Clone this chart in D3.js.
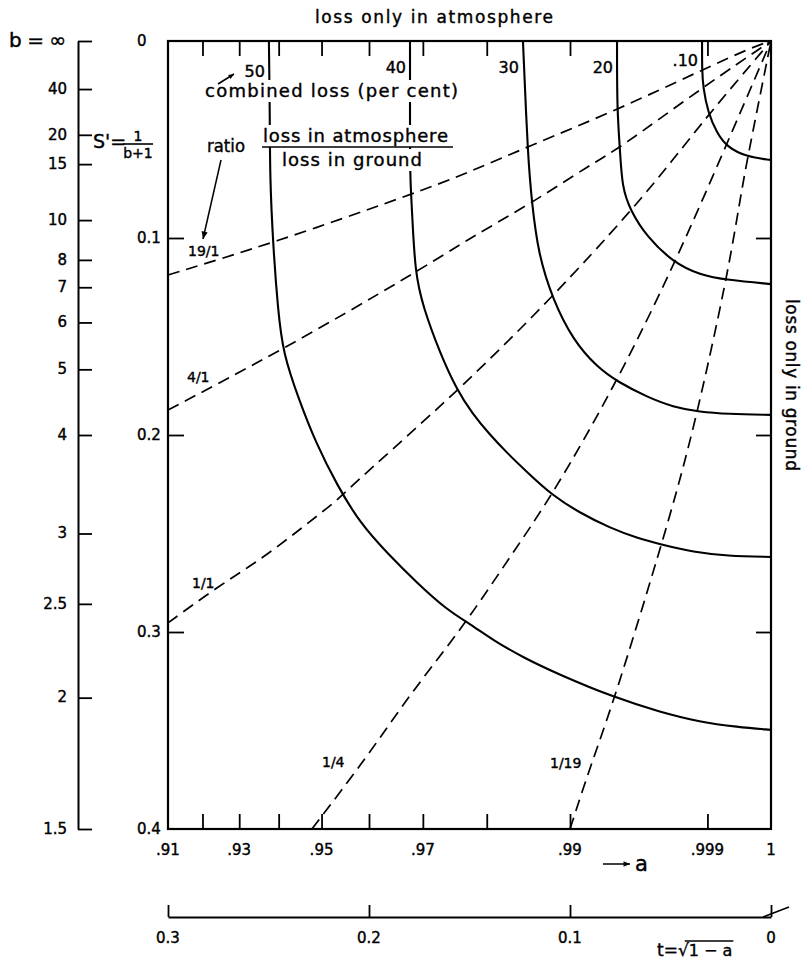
<!DOCTYPE html>
<html><head><meta charset="utf-8">
<script src="https://cdn.jsdelivr.net/npm/d3@7"></script>
<style>body{margin:0;background:#fff}svg{display:block}</style>
</head><body><svg id="c" width="804" height="966"></svg>
<script>
// ---------- data (t = sqrt(1-a), S' = 1/(b+1)) ----------
const lossLabels = ["50","40","30","20",".10"];
const loss50 = [[0.2498,0],[0.2493,0.0401],[0.2493,0.0680],[0.2478,0.1025],[0.2453,0.1365],[0.2428,0.1584],[0.2348,0.1822],[0.2264,0.2041],[0.2159,0.2254],[0.2045,0.2447],[0.1910,0.2599],[0.1761,0.2751],[0.1612,0.2888],[0.1497,0.2959],[0.1383,0.3041],[0.1234,0.3129],[0.1050,0.3218],[0.0786,0.3330],[0.0552,0.3406],[0.0353,0.3457],[0.0169,0.3482],[0,0.3497]];
const loss40 = [[0.1796,0],[0.1796,0.0401],[0.1796,0.0690],[0.1786,0.0858],[0.1771,0.1178],[0.1731,0.1350],[0.1647,0.1584],[0.1562,0.1772],[0.1488,0.1888],[0.1398,0.2000],[0.1313,0.2091],[0.1214,0.2188],[0.1090,0.2305],[0.0950,0.2396],[0.0801,0.2472],[0.0667,0.2523],[0.0537,0.2558],[0.0388,0.2594],[0.0219,0.2614],[0,0.2619]];
const loss30 = [[0.1234,0],[0.1209,0.0604],[0.1189,0.0822],[0.1159,0.1076],[0.1085,0.1315],[0.0985,0.1518],[0.0866,0.1655],[0.0761,0.1731],[0.0617,0.1807],[0.0488,0.1858],[0.0353,0.1883],[0.0219,0.1893],[0,0.1898]];
const loss20 = [[0.0766,0],[0.0766,0.0350],[0.0751,0.0553],[0.0741,0.0741],[0.0701,0.0858],[0.0617,0.0995],[0.0488,0.1122],[0.0353,0.1188],[0.0219,0.1213],[0,0.1234]];
const loss10 = [[0.0343,0],[0.0343,0.0147],[0.0338,0.0234],[0.0313,0.0365],[0.0269,0.0467],[0.0219,0.0538],[0.0119,0.0589],[0,0.0604]];

const ratioLabels = ["19/1","4/1","1/1","1/4","1/19"];
const ratio19to1 = [[0.3,0.1188],[0.2478,0.1025],[0.1796,0.0782],[0.1498,0.0665],[0.1214,0.0538],[0.0766,0.0350],[0.0343,0.0147],[0.0090,0.0030],[0,0]];
const ratio4to1 = [[0.3,0.1873],[0.2433,0.1569],[0.1771,0.1178],[0.1498,0.1000],[0.1189,0.0822],[0.0886,0.0619],[0.0766,0.0553],[0.0338,0.0234],[0,0]];
const ratio1to1 = [[0.3,0.2954],[0.2756,0.2772],[0.2542,0.2635],[0.2328,0.2467],[0.2144,0.2320],[0.2095,0.2264],[0.1562,0.1782],[0.1085,0.1299],[0.0692,0.0858],[0.0488,0.0604],[0.0313,0.0376],[0,0]];
const ratio1to4 = [[0.2284,0.4],[0.2010,0.3635],[0.1781,0.3294],[0.1532,0.2975],[0.1299,0.2619],[0.1090,0.2310],[0.0761,0.1721],[0.0478,0.1127],[0.0254,0.0604],[0,0]];
const ratio1to19 = [[0.1,0.4],[0.0900,0.3685],[0.0776,0.3335],[0.0542,0.2548],[0.0453,0.2228],[0.0363,0.1873],[0.0219,0.1203],[0.0154,0.0807],[0.0119,0.0604],[0,0]];

const aTicks = [0.92,0.93,0.94,0.95,0.96,0.97,0.98,0.99,0.999];
const aLabelValues = [0.91,0.93,0.95,0.97,0.99,0.999,1];
const aLabelText = [".91",".93",".95",".97",".99",".999","1"];
const sTicks = [0.1,0.2,0.3];
const sLabelValues = [0,0.1,0.2,0.3,0.4];
const sLabelText = ["0","0.1","0.2","0.3","0.4"];
const bTicks = [Infinity,40,20,15,10,8,7,6,5,4,3,2.5,2,1.5];
const bLabelText = ["","40","20","15","10","8","7","6","5","4","3","2.5","2","1.5"];
const tTicks = [0.3,0.2,0.1,0];
const tLabelText = ["0.3","0.2","0.1","0"];

// ---------- drawing ----------
const FONT = "DejaVu Sans";
const svg = d3.select("#c");
svg.append("rect").attr("width",804).attr("height",966).attr("fill","#fff");

const xs = d3.scaleLinear().domain([0.3,0]).range([168,771]);
const ys = d3.scaleLinear().domain([0,0.4]).range([41,829]);
const aToT = a => Math.sqrt(Math.max(0,1-a));
const bToS = b => (b===Infinity ? 0 : 1/(b+1));

const g = svg.append("g");
const line = d3.line().x(d=>xs(d[0])).y(d=>ys(d[1])).curve(d3.curveBasis);

// dashed ratio curves
[ratio19to1,ratio4to1,ratio1to1,ratio1to4,ratio1to19].forEach(c=>{
  g.append("path").attr("d",line(c)).attr("fill","none").attr("stroke","#000")
   .attr("stroke-width",1.7).attr("stroke-dasharray","12,7");
});
// solid loss curves
const lossCurves = [loss50,loss40,loss30,loss20,loss10];
lossCurves.forEach(c=>{
  g.append("path").attr("d",line(c)).attr("fill","none").attr("stroke","#000").attr("stroke-width",2.1);
});

// frame
g.append("rect").attr("x",xs(0.3)).attr("y",ys(0)).attr("width",xs(0)-xs(0.3)).attr("height",ys(0.4)-ys(0))
  .attr("fill","none").attr("stroke","#000").attr("stroke-width",2.2);

function styleAxis(sel){
  sel.selectAll("path.domain").remove();
  sel.selectAll(".tick line").attr("stroke","#000").attr("stroke-width",1.8);
  sel.selectAll(".tick text").remove();
}
const aT = aTicks.map(aToT);
svg.append("g").attr("transform",`translate(0,${ys(0.4)})`).call(d3.axisTop(xs).tickValues(aT).tickSize(15)).call(styleAxis);
svg.append("g").attr("transform",`translate(0,${ys(0)})`).call(d3.axisBottom(xs).tickValues(aT).tickSize(15)).call(styleAxis);
svg.append("g").attr("transform",`translate(${xs(0.3)},0)`).call(d3.axisRight(ys).tickValues(sTicks).tickSize(16)).call(styleAxis);
svg.append("g").attr("transform",`translate(${xs(0)},0)`).call(d3.axisLeft(ys).tickValues(sTicks).tickSize(15)).call(styleAxis);

// b axis
const bAx = svg.append("g").attr("transform","translate(78,0)")
  .call(d3.axisRight(ys).tickValues(bTicks.map(bToS)).tickSize(14).tickSizeOuter(0));
bAx.select("path.domain").attr("stroke","#000").attr("stroke-width",2);
bAx.selectAll(".tick line").attr("stroke","#000").attr("stroke-width",1.8);
bAx.selectAll(".tick text").remove();

// bottom t axis
const tY = 917;
const tAx = svg.append("g").attr("transform",`translate(0,${tY})`)
  .call(d3.axisTop(xs).tickValues(tTicks).tickSize(12).tickSizeOuter(0));
tAx.select("path.domain").attr("stroke","#000").attr("stroke-width",1.8);
tAx.selectAll(".tick line").attr("stroke","#000").attr("stroke-width",1.8);
tAx.selectAll(".tick text").remove();
svg.append("line").attr("x1",xs(0)-8).attr("y1",tY).attr("x2",xs(0)+18).attr("y2",tY-10).attr("stroke","#000").attr("stroke-width",1.6);

const T = (x,y,s,size,anchor)=> svg.append("text").attr("x",x).attr("y",y).text(s)
   .attr("font-family",FONT).attr("font-size",size).attr("text-anchor",anchor||"start")
   .attr("fill","#000").attr("stroke","#000").attr("stroke-width",0.4);

// text blocks that interrupt the curves
const combined = T(205,97,"combined loss (per cent)",18).attr("textLength",253).attr("lengthAdjust","spacing");
const num = T(263,142,"loss in atmosphere",18).attr("textLength",185).attr("lengthAdjust","spacing");
const den = T(282,166,"loss in ground",18).attr("textLength",140).attr("lengthAdjust","spacing");
[combined,num,den].forEach(t=>{
  const b=t.node().getBBox();
  svg.insert("rect","text").attr("x",b.x-3).attr("y",b.y).attr("width",b.width+6).attr("height",b.height+1).attr("fill","#fff");
});
svg.append("line").attr("x1",262).attr("x2",453).attr("y1",147).attr("y2",147).attr("stroke","#000").attr("stroke-width",1.7);
T(207,152,"ratio",18).attr("textLength",38).attr("lengthAdjust","spacingAndGlyphs");

// title texts
T(315,23,"loss only in atmosphere",17).attr("textLength",238).attr("lengthAdjust","spacing");
svg.append("text").attr("transform","translate(786,385) rotate(90)").attr("text-anchor","middle")
  .attr("font-family",FONT).attr("font-size",17).attr("stroke","#000").attr("stroke-width",0.4)
  .attr("textLength",172).attr("lengthAdjust","spacing").text("loss only in ground");

// loss labels
const lossLabelY = [77,73,73,73,66];
lossCurves.forEach((c,i)=>T(xs(c[0][0])-4,lossLabelY[i],lossLabels[i],16,"end"));

// ratio labels
const ratioLabelPos = [[188,256],[187,382],[192,588],[322,767],[550,768]];
ratioLabels.forEach((s,i)=>T(ratioLabelPos[i][0],ratioLabelPos[i][1],s,14));

// arrows
function arrow(x1,y1,x2,y2,h){
  svg.append("line").attr("x1",x1).attr("y1",y1).attr("x2",x2).attr("y2",y2).attr("stroke","#000").attr("stroke-width",1.5);
  const ang=Math.atan2(y2-y1,x2-x1), L=h||7, w=0.4;
  const p=[[x2,y2],[x2-L*Math.cos(ang-w),y2-L*Math.sin(ang-w)],[x2-L*Math.cos(ang+w),y2-L*Math.sin(ang+w)]];
  svg.append("path").attr("d","M"+p.join("L")+"Z").attr("fill","#000");
}
arrow(218,84,234,74,6);
arrow(221,160,203,239,8);
arrow(603,864,630,864,7);

// S' axis labels
sLabelValues.forEach((v,i)=>T(137,ys(v),sLabelText[i],15).attr("dy","0.36em"));
// b labels
bTicks.forEach((b,i)=>{ if(bLabelText[i]) T(67,ys(bToS(b)),bLabelText[i],15,"end").attr("dy","0.32em"); });
T(9,47,"b=∞",20).attr("textLength",57).attr("lengthAdjust","spacing");
// S' = 1/(b+1)
T(93,148,"S'=",19);
T(138,141,"1",14,"middle");
svg.append("line").attr("x1",123).attr("x2",153).attr("y1",144).attr("y2",144).attr("stroke","#000").attr("stroke-width",1.6);
T(138,158,"b+1",14,"middle");

// a labels
aLabelValues.forEach((a,i)=>T(xs(aToT(a)),855,aLabelText[i],15,"middle"));
T(635,871,"a",21);
// t labels
tTicks.forEach((t,i)=>T(xs(t),943,tLabelText[i],15,"middle"));
const t1 = T(657,956,"t=",17);
const sq = T(657+t1.node().getComputedTextLength(),956,"√",17);
const sx = 657+t1.node().getComputedTextLength()+sq.node().getComputedTextLength();
const ra = T(sx,956,"1 − a",16);
svg.append("line").attr("x1",sx-4).attr("x2",sx+ra.node().getComputedTextLength()+1).attr("y1",941).attr("y2",941).attr("stroke","#000").attr("stroke-width",1.3);
</script></body></html>
